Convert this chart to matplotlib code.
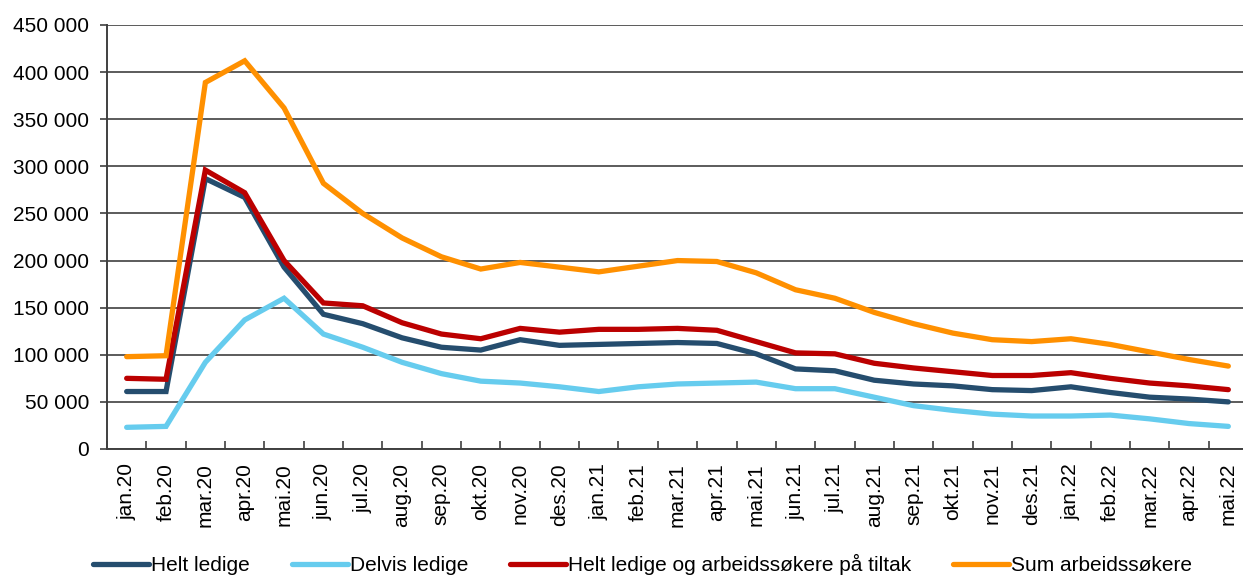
import matplotlib.pyplot as plt
import numpy as np

plt.rcParams['font.family'] = ['Liberation Sans', 'DejaVu Sans']

months = ['jan.20', 'feb.20', 'mar.20', 'apr.20', 'mai.20', 'jun.20', 'jul.20', 'aug.20',
          'sep.20', 'okt.20', 'nov.20', 'des.20', 'jan.21', 'feb.21', 'mar.21', 'apr.21',
          'mai.21', 'jun.21', 'jul.21', 'aug.21', 'sep.21', 'okt.21', 'nov.21', 'des.21',
          'jan.22', 'feb.22', 'mar.22', 'apr.22', 'mai.22']

helt_ledige = [61000, 61000, 287000, 267000, 193000, 143000, 133000, 118000, 108000, 105000,
               116000, 110000, 111000, 112000, 113000, 112000, 101000, 85000, 83000, 73000,
               69000, 67000, 63000, 62000, 66000, 60000, 55000, 53000, 50000]
delvis_ledige = [23000, 24000, 92000, 137000, 160000, 122000, 108000, 92000, 80000, 72000,
                 70000, 66000, 61000, 66000, 69000, 70000, 71000, 64000, 64000, 55000,
                 46000, 41000, 37000, 35000, 35000, 36000, 32000, 27000, 24000]
helt_tiltak = [75000, 74000, 296000, 272000, 200000, 155000, 152000, 134000, 122000, 117000,
               128000, 124000, 127000, 127000, 128000, 126000, 114000, 102000, 101000, 91000,
               86000, 82000, 78000, 78000, 81000, 75000, 70000, 67000, 63000]
sum_arbeid = [98000, 99000, 389000, 412000, 362000, 282000, 250000, 224000, 204000, 191000,
              198000, 193000, 188000, 194000, 200000, 199000, 187000, 169000, 160000, 145000,
              133000, 123000, 116000, 114000, 117000, 111000, 103000, 95000, 88000]

series = [
    ('Helt ledige', helt_ledige, '#254D6E'),
    ('Delvis ledige', delvis_ledige, '#66CCEE'),
    ('Helt ledige og arbeidssøkere på tiltak', helt_tiltak, '#BB0000'),
    ('Sum arbeidssøkere', sum_arbeid, '#FF9000'),
]

fig = plt.figure(figsize=(12.43, 5.77), dpi=100)
ax = fig.add_axes([107 / 1243, 1 - 449 / 577, 1141 / 1243, 424 / 577])

x = np.arange(len(months))
for name, vals, color in series:
    ax.plot(x, vals, color=color, lw=3.8, label=name,
            solid_capstyle='round', solid_joinstyle='miter')

ax.set_xlim(-0.5, len(months) - 0.5)
ax.set_ylim(0, 450000)
ax.set_yticks(np.arange(0, 450001, 50000))
ax.set_yticklabels(['0' if v == 0 else f'{v // 1000} 000' for v in range(0, 450001, 50000)],
                   fontsize=15)
ax.set_xticks(x)
ax.set_xticklabels(months, rotation=90, fontsize=15)
ax.set_xticks(np.arange(-0.5, len(months)), minor=True)
ax.tick_params(axis='x', which='major', length=0, pad=10)
ax.tick_params(axis='x', which='minor', direction='in', length=6, color='#404040', width=1.2)
ax.tick_params(axis='y', direction='out', length=5, color='#404040', width=1.2, pad=8)

ax.grid(axis='y', color='#404040', lw=1.2)
ax.set_axisbelow(True)
for s in ['top', 'right']:
    ax.spines[s].set_visible(False)
for s in ['left', 'bottom']:
    ax.spines[s].set_color('#404040')
    ax.spines[s].set_linewidth(1.4)

fig.legend(loc='center', bbox_to_anchor=(0.517, 0.022), ncol=4, frameon=False,
           fontsize=15, handlelength=2.7, handletextpad=0.1, columnspacing=2.0)

fig.savefig('out.png', dpi=100)
